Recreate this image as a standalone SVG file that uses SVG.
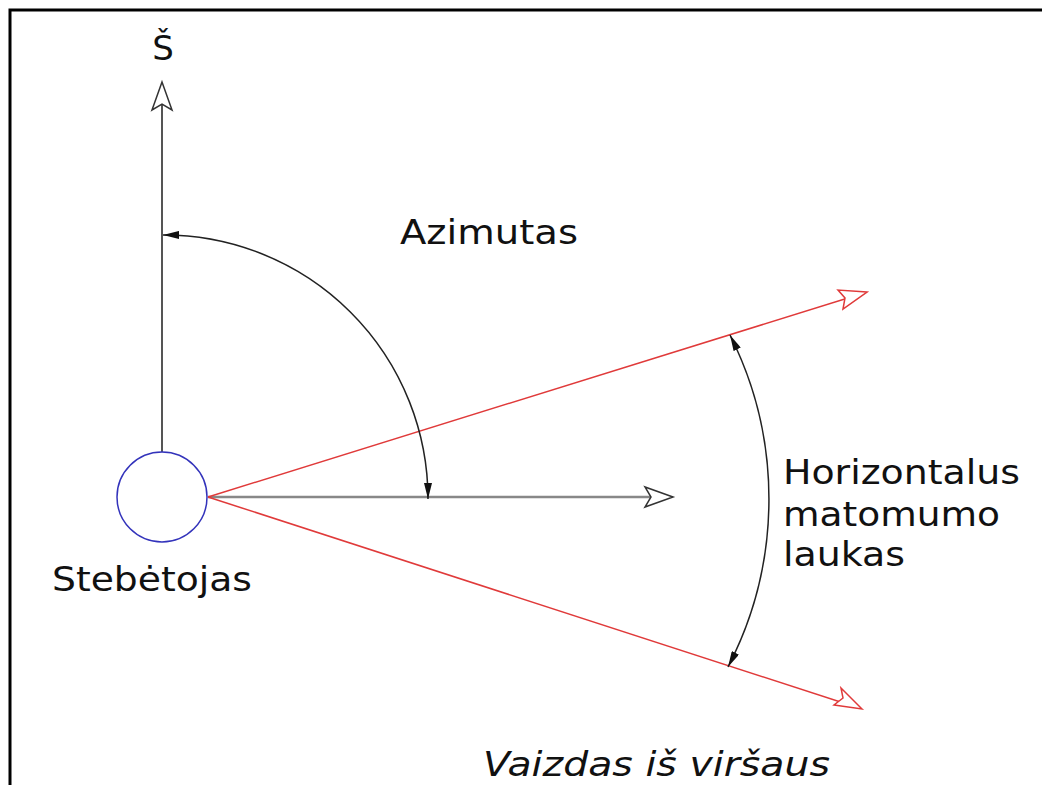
<svg xmlns="http://www.w3.org/2000/svg" width="1042" height="785" viewBox="0 0 1042 785">
<defs>
<style>
.t{font-family:"DejaVu Sans",sans-serif;font-size:34px;fill:#111}
.open{fill:#fff;stroke:#333;stroke-width:1.5}
.openr{fill:#fff;stroke:#e03a3a;stroke-width:1.5}
.dim{fill:none;stroke:#222;stroke-width:1.5}
</style>
<marker id="fa" viewBox="0 0 16 8" refX="16" refY="4" markerWidth="16" markerHeight="8" markerUnits="userSpaceOnUse" orient="auto-start-reverse">
<path d="M0,0 L16,4 L0,8 Z" fill="#111"/>
</marker>
</defs>
<rect x="0" y="0" width="1042" height="785" fill="#fff"/>
<path d="M10,785 V10 H1042" fill="none" stroke="#000" stroke-width="3"/>
<g id="connectors">
<line x1="162" y1="452" x2="162" y2="84" stroke="#555" stroke-width="2"/>
<polygon class="open" points="162,82 172,110 162,104 152,110"/>
<line x1="208" y1="497" x2="670" y2="497" stroke="#888" stroke-width="2.5"/>
<polygon class="open" points="673,497 645,487 651,497 645,507"/>
<line x1="208" y1="497" x2="864" y2="293" stroke="#e03a3a" stroke-width="1.5"/>
<polygon class="openr" points="867,292 838,290 845,298 843,309"/>
<line x1="208" y1="497" x2="859" y2="708" stroke="#e03a3a" stroke-width="1.5"/>
<polygon class="openr" points="862,709 841,688 843,698 834,705"/>
<path class="dim" d="M163,235 A264,264 0 0 1 428,499" marker-start="url(#fa)" marker-end="url(#fa)"/>
<path class="dim" d="M730,335 A365,365 0 0 1 728,667" marker-start="url(#fa)" marker-end="url(#fa)"/>
</g>
<g id="observer">
<circle cx="162" cy="497" r="45" fill="#fff" stroke="#3333bb" stroke-width="1.5"/>
<text class="t" x="52" y="591" textLength="200" lengthAdjust="spacingAndGlyphs">Stebėtojas</text>
</g>
<g id="north"><text class="t" x="163" y="60" text-anchor="middle">Š</text></g>
<g id="azimuth"><text class="t" x="400" y="244" textLength="178" lengthAdjust="spacingAndGlyphs">Azimutas</text></g>
<g id="field">
<text class="t" x="783" y="484" textLength="237" lengthAdjust="spacingAndGlyphs">Horizontalus</text>
<text class="t" x="783" y="526" textLength="217" lengthAdjust="spacingAndGlyphs">matomumo</text>
<text class="t" x="783" y="566" textLength="122" lengthAdjust="spacingAndGlyphs">laukas</text>
</g>
<g id="caption"><text class="t" x="483" y="776" font-style="italic" textLength="347" lengthAdjust="spacingAndGlyphs">Vaizdas iš viršaus</text></g>
</svg>
